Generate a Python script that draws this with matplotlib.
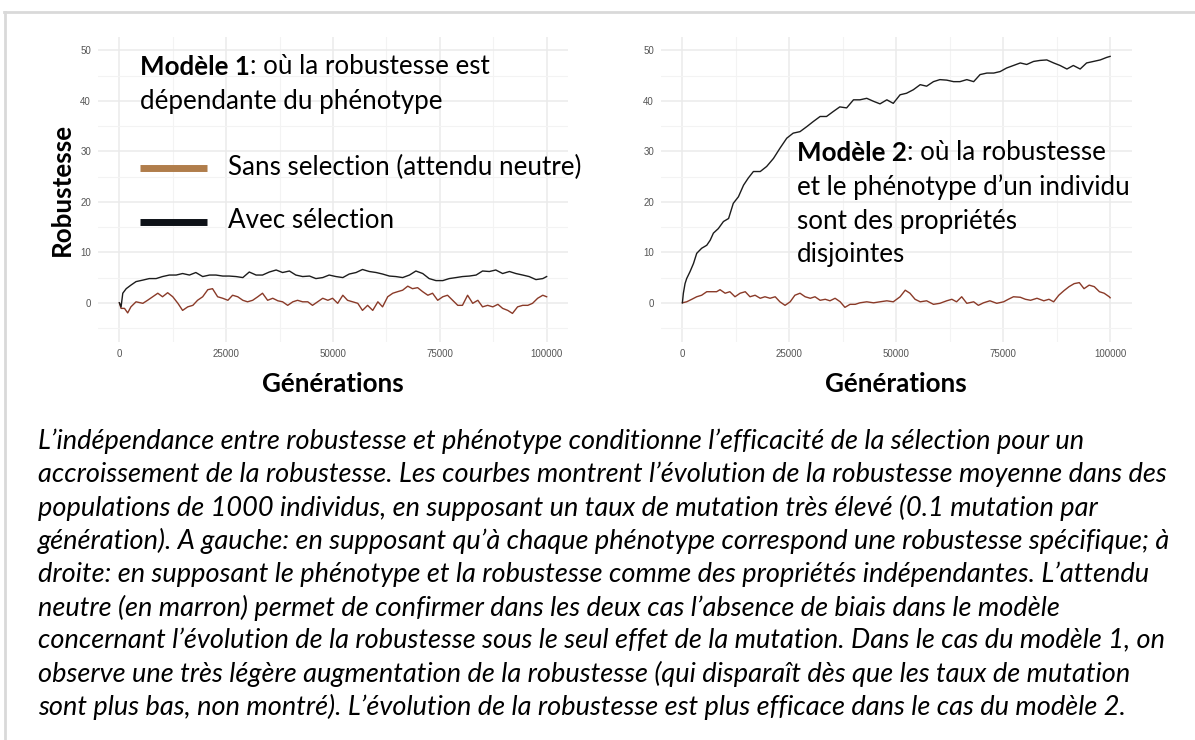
import matplotlib.pyplot as plt
from matplotlib.lines import Line2D

W, H = 1195, 740

# Modèle 1 : robustesse dépendante du phénotype
gen1_sel = [0, 400, 800, 1600, 2700, 3900, 5500, 7000, 8600, 10100, 11700, 13300, 14800, 16400,
            17900, 19500, 21100, 22600, 24200, 25700, 27300, 28900, 30400, 32000, 33500, 35100,
            36700, 38200, 39800, 41300, 42900, 44500, 46000, 47600, 49100, 50700, 52300, 53800,
            55400, 56900, 58500, 60100, 61600, 63200, 64700, 66300, 67900, 69400, 71000, 72500,
            74100, 75700, 77200, 78800, 80300, 81900, 83500, 85000, 86600, 88100, 89700, 91300,
            92800, 94400, 95900, 97500, 99100, 100000]
rob1_sel = [0, -0.8, 1.9, 2.8, 3.5, 4.2, 4.5, 4.8, 4.8, 5.2, 5.5, 5.5, 5.8, 5.5,
            6.0, 5.2, 5.5, 5.5, 5.3, 5.3, 5.2, 5.0, 6.1, 5.5, 5.5, 6.1,
            6.5, 6.0, 6.3, 5.5, 5.2, 5.3, 4.8, 5.0, 5.5, 5.2, 5.0, 5.7,
            6.0, 6.6, 6.2, 6.0, 5.7, 5.3, 5.2, 5.0, 5.5, 6.3, 5.8, 4.8,
            4.4, 4.4, 4.8, 5.0, 5.2, 5.3, 5.5, 6.3, 6.2, 6.5, 5.8, 6.2,
            5.8, 5.5, 5.2, 4.6, 4.8, 5.2]

gen1_neu = [0, 400, 1200, 1950, 2700, 3900, 5500, 6600, 7800, 9000, 10100, 11300, 12500, 13700,
            14800, 16000, 17200, 18300, 19500, 20700, 21800, 23000, 24200, 25400, 26500, 27700,
            28900, 30000, 31200, 32400, 33500, 34700, 35900, 37100, 38200, 39400, 40600, 41700,
            42900, 44100, 45200, 46400, 47600, 48800, 49900, 51100, 52300, 53400, 54600, 55800,
            56900, 58100, 59300, 60500, 61600, 62800, 64000, 65100, 66300, 67500, 68600, 69800,
            71000, 72200, 73300, 74500, 75700, 76800, 78000, 79200, 80300, 81500, 82700, 83900,
            85000, 86200, 87400, 88600, 89700, 90900, 92000, 93200, 94400, 95600, 96700, 97900,
            99100, 100000]
rob1_neu = [0, -1.1, -1.1, -2.0, -0.8, 0.2, -0.1, 0.5, 1.2, 1.9, 1.2, 2.0, 1.2, -0.1,
            -1.5, -0.8, -0.5, 0.5, 1.2, 2.6, 2.8, 1.2, 0.9, 0.5, 1.5, 1.2,
            0.5, 0.2, 0.5, 1.2, 1.9, 0.5, 0.9, 0.4, 0.2, -0.5, 0.2, 0.5,
            0.2, 0.2, -0.5, 0.2, 0.9, 0.5, 0.9, -0.1, 1.5, 0.5, 0.2, -0.1,
            -1.5, -0.5, -1.5, 0.2, -0.8, 1.2, 1.9, 2.2, 2.5, 3.3, 2.8, 3.0,
            2.2, 1.5, 1.9, 0.5, 1.2, 1.5, 0.5, -0.5, -0.5, 1.5, -0.1, 0.5,
            -0.8, -0.5, -0.8, -0.3, -1.1, -1.5, -2.1, -0.8, -0.5, -0.5, -0.1, 0.9,
            1.5, 1.2]

# Modèle 2 : robustesse et phénotype disjoints
gen2_sel = [0, 230, 620, 1000, 1800, 2600, 3350, 4500, 5700, 6500, 7250, 8400, 9600, 10800,
            11900, 13100, 14300, 15400, 16600, 18200, 19700, 21300, 22800, 24400, 25900, 27500,
            29100, 30600, 32200, 33700, 35300, 36800, 38400, 40000, 41500, 43100, 44700, 46200,
            47800, 49300, 50900, 52400, 54000, 55600, 57100, 58700, 60200, 61800, 63400, 64900,
            66500, 68100, 69600, 71200, 72800, 74300, 75800, 77400, 79000, 80500, 82100, 83600,
            85200, 86800, 88300, 89900, 91400, 93000, 94500, 96100, 97700, 99200, 100000]
rob2_sel = [0, 1.9, 3.8, 4.8, 6.2, 7.8, 9.8, 10.8, 11.4, 12.4, 13.8, 14.7, 16.1, 16.7,
            19.7, 21.0, 23.3, 24.7, 26.0, 26.0, 27.0, 28.6, 30.6, 32.6, 33.6, 33.9,
            34.9, 35.9, 36.9, 36.9, 37.9, 38.8, 38.6, 40.2, 40.2, 40.5, 39.9, 39.4,
            40.2, 39.5, 41.2, 41.5, 42.2, 43.2, 42.9, 43.8, 44.2, 44.1, 43.8, 43.8,
            44.2, 43.8, 45.2, 45.5, 45.5, 45.8, 46.5, 47.0, 47.5, 47.2, 47.8, 48.0,
            48.1, 47.5, 47.0, 46.3, 47.0, 46.3, 47.5, 47.8, 48.1, 48.6, 48.8]

gen2_neu = [0, 1000, 2200, 3350, 4500, 5700, 6900, 8000, 8800, 10000, 11100, 12300, 13500, 14700,
            15800, 17000, 18200, 19300, 20500, 21700, 22800, 24000, 25200, 26300, 27500, 28700,
            29900, 31000, 32200, 33400, 34500, 35700, 36900, 38000, 39200, 40400, 41500, 43100,
            44700, 46200, 47800, 49300, 50900, 52100, 53200, 54400, 55600, 57100, 58700, 60200,
            61800, 63000, 64100, 65300, 66500, 68100, 69200, 70400, 71900, 73500, 75100, 76200,
            77400, 79000, 80200, 81400, 82900, 84500, 85700, 86800, 88000, 89200, 90400, 91600,
            92800, 93900, 95100, 96300, 97500, 98600, 99800, 100000]
rob2_neu = [0, 0.2, 0.7, 1.2, 1.5, 2.2, 2.2, 2.2, 2.6, 1.9, 2.2, 1.2, 1.9, 2.2,
            1.2, 1.5, 0.9, 1.2, 0.9, 1.2, 0.2, -0.5, 0.2, 1.5, 1.9, 1.2,
            0.9, 1.2, 0.5, 0.7, 0.4, 0.9, 0.2, -0.9, -0.3, -0.3, 0.0, 0.2,
            0.0, 0.2, 0.4, 0.2, 1.2, 2.5, 1.9, 0.7, 0.2, 0.4, -0.3, -0.1,
            0.4, 0.7, 0.2, 1.2, -0.1, 0.2, -0.5, 0.0, 0.4, -0.1, 0.2, 0.7,
            1.2, 1.1, 0.7, 0.5, 0.9, 0.4, 0.7, 0.2, 1.5, 2.4, 3.2, 3.8,
            4.0, 2.8, 3.5, 3.2, 2.2, 1.9, 1.2, 1.0]

xticks = [0, 25000, 50000, 75000, 100000]
yticks = [0, 10, 20, 30, 40, 50]

col_sel = '#1c1c1c'
col_neu = '#8a3a28'
col_leg_neu = '#b07d4b'
col_leg_sel = '#0d1117'

TXT = 'Lato'
FS = 18.7

fig = plt.figure(figsize=(W / 100, H / 100), dpi=100)

ax1 = fig.add_axes([98 / W, 1 - 341.7 / H, 470 / W, 305 / H])
ax2 = fig.add_axes([661 / W, 1 - 341.7 / H, 470.5 / W, 305 / H])

ax1.plot(gen1_neu, rob1_neu, color=col_neu, lw=1.0)
ax1.plot(gen1_sel, rob1_sel, color=col_sel, lw=1.0)
ax2.plot(gen2_neu, rob2_neu, color=col_neu, lw=1.0)
ax2.plot(gen2_sel, rob2_sel, color=col_sel, lw=1.0)

for ax in (ax1, ax2):
    ax.set_xlim(-5000, 105000)
    ax.set_ylim(-7.7, 52.7)
    ax.set_xticks(xticks)
    ax.set_xticklabels([str(t) for t in xticks])
    ax.set_yticks(yticks)
    ax.set_xticks([12500, 37500, 62500, 87500], minor=True)
    ax.set_yticks([-5, 5, 15, 25, 35, 45], minor=True)
    ax.grid(True, which='major', color='#ebebeb', lw=1.1)
    ax.grid(True, which='minor', color='#f3f3f3', lw=0.8)
    ax.set_axisbelow(True)
    for s in ax.spines.values():
        s.set_visible(False)
    ax.tick_params(which='both', length=0, labelsize=7, labelcolor='#555555',
                   pad=5)
    for lab in ax.get_xticklabels() + ax.get_yticklabels():
        lab.set_family('Liberation Sans')
    ax.set_xlabel('Générations', fontsize=FS, fontweight='bold', family=TXT, labelpad=9.5)

ax1.set_ylabel('Robustesse', fontsize=FS, fontweight='bold', family=TXT, labelpad=4.5)

# annotations
t1 = fig.text(140 / W, 1 - 67 / H, 'Modèle 1', fontsize=FS, fontweight='bold', family=TXT,
              va='center')
fig.canvas.draw()
bb = t1.get_window_extent()
fig.text(bb.x1 / W, 1 - 67 / H, ': où la robustesse est', fontsize=FS, family=TXT, va='center')
fig.text(140 / W, 1 - 101 / H, 'dépendante du phénotype', fontsize=FS, family=TXT, va='center')

fig.add_artist(Line2D([140 / W, 207 / W], [1 - 168 / H] * 2, lw=5, color=col_leg_neu,
                      solid_capstyle='butt'))
fig.add_artist(Line2D([140 / W, 207 / W], [1 - 222 / H] * 2, lw=5, color=col_leg_sel,
                      solid_capstyle='butt'))
fig.text(228 / W, 1 - 167 / H, 'Sans selection (attendu neutre)', fontsize=FS, family=TXT,
         va='center')
fig.text(228 / W, 1 - 221 / H, 'Avec sélection', fontsize=FS, family=TXT, va='center')

t2 = fig.text(797 / W, 1 - 153 / H, 'Modèle 2', fontsize=FS, fontweight='bold', family=TXT,
              va='center')
fig.canvas.draw()
bb = t2.get_window_extent()
fig.text(bb.x1 / W, 1 - 153 / H, ': où la robustesse', fontsize=FS, family=TXT, va='center')
fig.text(797 / W, 1 - 187 / H, 'et le phénotype d’un individu', fontsize=FS, family=TXT,
         va='center')
fig.text(797 / W, 1 - 221 / H, 'sont des propriétés', fontsize=FS, family=TXT, va='center')
fig.text(797 / W, 1 - 254 / H, 'disjointes', fontsize=FS, family=TXT, va='center')

caption = [
    "L’indépendance entre robustesse et phénotype conditionne l’efficacité de la sélection pour un",
    "accroissement de la robustesse. Les courbes montrent l’évolution de la robustesse moyenne dans des",
    "populations de 1000 individus, en supposant un taux de mutation très élevé (0.1 mutation par",
    "génération). A gauche: en supposant qu’à chaque phénotype correspond une robustesse spécifique; à",
    "droite: en supposant le phénotype et la robustesse comme des propriétés indépendantes. L’attendu",
    "neutre (en marron) permet de confirmer dans les deux cas l’absence de biais dans le modèle",
    "concernant l’évolution de la robustesse sous le seul effet de la mutation. Dans le cas du modèle 1, on",
    "observe une très légère augmentation de la robustesse (qui disparaît dès que les taux de mutation",
    "sont plus bas, non montré). L’évolution de la robustesse est plus efficace dans le cas du modèle 2.",
]
for i, line in enumerate(caption):
    fig.text(38 / W, 1 - (441 + i * 33.3) / H, line, fontsize=19.5, family=TXT, style='italic',
             va='center')

# cadre gris
fig.add_artist(Line2D([4 / W, 1], [1 - 12 / H] * 2, lw=2, color='#d9d9d9'))
fig.add_artist(Line2D([5 / W, 5 / W], [0, 1 - 12 / H], lw=2, color='#d9d9d9'))

fig.savefig('out.png', dpi=100)
